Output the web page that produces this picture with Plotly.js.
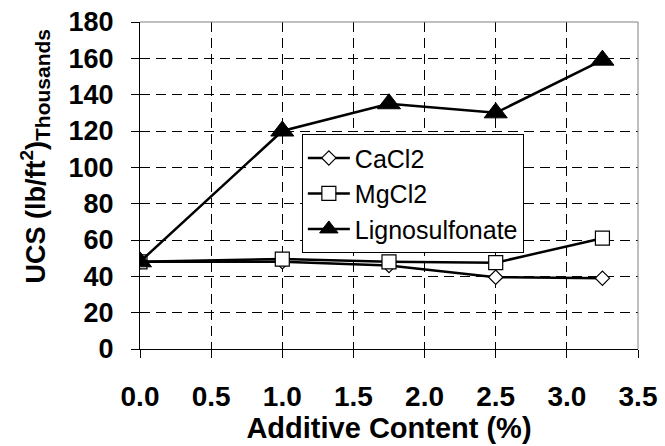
<!DOCTYPE html>
<html>
<head>
<meta charset="utf-8">
<script src="https://cdn.plot.ly/plotly-3.0.1.min.js"></script>
<style>
  html, body { margin: 0; padding: 0; background: #fff; }
  #chart { width: 665px; height: 446px; }
</style>
</head>
<body>
<div id="chart"></div>
<script>
// ---- data ----
const additiveContent = [0.0, 1.0, 1.75, 2.5, 3.25];
const ucsCaCl2 = [48, 48, 46, 39.5, 39];
const ucsMgCl2 = [48, 49.5, 48, 47.5, 61];
const ucsLignosulfonate = [48, 120, 135, 130, 159];
const seriesNames = ['CaCl2', 'MgCl2', 'Lignosulfonate'];
const xTickValues = [0, 0.5, 1.0, 1.5, 2.0, 2.5, 3.0, 3.5];
const yTickValues = [0, 20, 40, 60, 80, 100, 120, 140, 160, 180];
const xTitle = 'Additive Content (%)';
const yTitle = 'UCS (lb/ft<sup>2</sup>)<sub><span style="font-size:21px">Thousands</span></sub>';

const FONT = 'Liberation Sans, Arial, Helvetica, sans-serif';

const traces = [
  {
    x: additiveContent, y: ucsCaCl2, name: seriesNames[0],
    mode: 'lines+markers', type: 'scatter',
    line: {color: '#000', width: 2.5},
    marker: {symbol: 'diamond', size: 11, color: '#fff', line: {color: '#000', width: 1.2}}
  },
  {
    x: additiveContent, y: ucsMgCl2, name: seriesNames[1],
    mode: 'lines+markers', type: 'scatter',
    line: {color: '#000', width: 2.5},
    marker: {symbol: 'square', size: 14, color: '#fff', line: {color: '#000', width: 1.2}}
  },
  {
    x: additiveContent, y: ucsLignosulfonate, name: seriesNames[2],
    mode: 'lines+markers', type: 'scatter',
    line: {color: '#000', width: 2.5},
    marker: {symbol: 'triangle-up', size: 20, color: '#000', line: {color: '#000', width: 1}}
  },
  {
    x: [], y: [], xaxis: 'x2', yaxis: 'y2', showlegend: false, hoverinfo: 'skip',
    type: 'scatter', mode: 'markers'
  }
];

const layout = {
  width: 665, height: 446,
  margin: {l: 140, r: 27, t: 22, b: 97},
  paper_bgcolor: '#fff', plot_bgcolor: '#fff',
  font: {family: FONT, color: '#000'},
  showlegend: true,
  legend: {
    x: 0.325, y: 0.657, xanchor: 'left', yanchor: 'top',
    bgcolor: '#fff', bordercolor: '#000', borderwidth: 1,
    font: {family: FONT, size: 25, color: '#000'},
    itemwidth: 42, tracegroupgap: 0
  },
  xaxis: {
    range: [0, 3.5], tickvals: xTickValues, tickformat: '.1f',
    showline: true, linecolor: '#000', linewidth: 1,
    ticks: 'outside', ticklen: 8, tickcolor: '#000', tickwidth: 1,
    ticklabelstandoff: 14,
    tickfont: {family: FONT, size: 28, weight: 'bold', color: '#000'},
    showgrid: true, gridcolor: '#000', gridwidth: 1, griddash: '10px,6px',
    zeroline: false, automargin: false,
    title: {text: xTitle, standoff: 4, font: {family: FONT, size: 29, weight: 'bold', color: '#000'}}
  },
  yaxis: {
    range: [0, 180], tickvals: yTickValues,
    showline: true, linecolor: '#000', linewidth: 1,
    ticks: 'outside', ticklen: 8, tickcolor: '#000', tickwidth: 1,
    ticklabelstandoff: 12,
    tickfont: {family: FONT, size: 27, weight: 'bold', color: '#000'},
    showgrid: true, gridcolor: '#000', gridwidth: 1, griddash: '10px,6px',
    zeroline: false, automargin: false
  },
  xaxis2: {
    overlaying: 'x', anchor: 'y', range: [0, 3.5], tickvals: xTickValues,
    ticks: 'inside', ticklen: 7, tickcolor: '#000', tickwidth: 1,
    showticklabels: false, showgrid: false, zeroline: false, showline: false
  },
  yaxis2: {
    overlaying: 'y', anchor: 'x', side: 'left', range: [0, 180], tickvals: yTickValues,
    ticks: 'inside', ticklen: 7, tickcolor: '#000', tickwidth: 1,
    showticklabels: false, showgrid: false, zeroline: false, showline: false
  },
  shapes: [
    {type: 'line', xref: 'paper', yref: 'paper', x0: 0, x1: 1, y0: 1, y1: 1, line: {color: '#808080', width: 1}},
    {type: 'line', xref: 'paper', yref: 'paper', x0: 1, x1: 1, y0: 0, y1: 1, line: {color: '#808080', width: 1}}
  ],
  annotations: [
    {
      text: yTitle, xref: 'paper', yref: 'paper',
      x: -0.21, y: 0.59, xanchor: 'center', yanchor: 'middle',
      textangle: -90, showarrow: false,
      font: {family: FONT, size: 27, weight: 'bold', color: '#000'}
    }
  ]
};

Plotly.newPlot('chart', traces, layout, {displayModeBar: false, staticPlot: true});
</script>
</body>
</html>
